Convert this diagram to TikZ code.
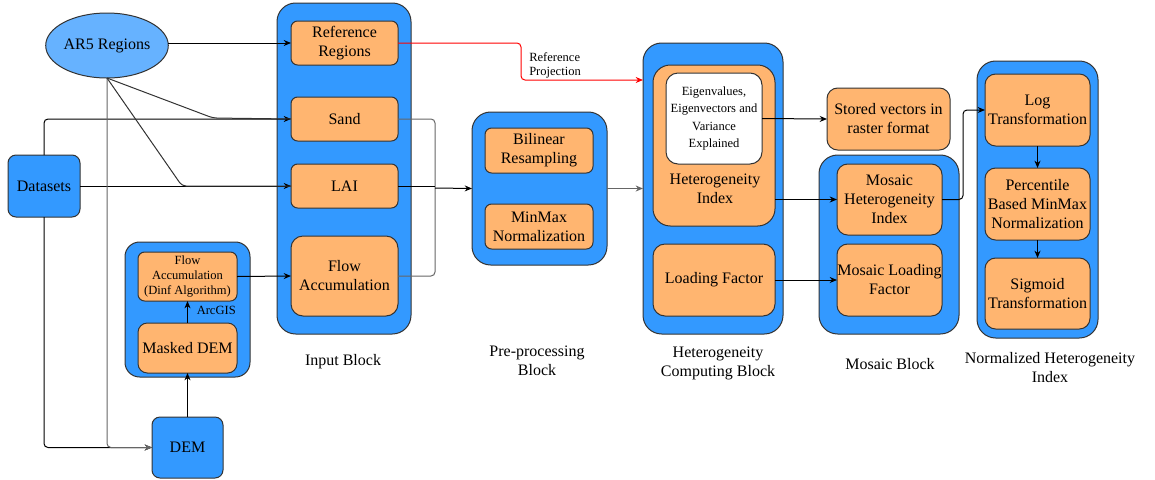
\documentclass[tikz,border=0pt]{standalone}
\usepackage{fontspec}
\setmainfont{Liberation Serif}
\usetikzlibrary{arrows.meta,shapes.geometric}
\definecolor{bblue}{HTML}{3399FF}
\definecolor{lblue}{HTML}{66B2FF}
\definecolor{orng}{HTML}{FFB570}
\definecolor{bord}{HTML}{333333}
\definecolor{lgray}{HTML}{666666}
\newcommand\fbig{\fontsize{12}{14.25}\selectfont}
\newcommand\fsmall{\fontsize{9.4}{13}\selectfont}
\newcommand\bx[7]{\node[#6,minimum width={(#4-#2)*0.75pt},minimum height={(#5-#3)*0.75pt}] (#1) at ({(#2+#4)/2},{(#3+#5)/2}) {#7};}
\begin{document}
\begin{tikzpicture}[x=0.75pt,y=-0.75pt,
  base/.style={draw=bord,line width=0.75pt,inner sep=0pt,outer sep=0pt,align=center,font=\fbig},
  cont/.style={base,fill=bblue,rounded corners=14pt},
  obox/.style={base,fill=orng,rounded corners=5pt},
  wbox/.style={base,fill=white,rounded corners=9pt,font=\fsmall},
  lbl/.style={align=center,font=\fbig,inner sep=0pt},
  ln/.style={line width=0.75pt,rounded corners=3pt},
  arr/.style={ln,-{Stealth[length=5.5pt,width=4.5pt]}}]
\useasboundingbox (0,0) rectangle (1155,479);
% containers
\bx{inb}{277}{3}{411}{334}{cont}{}
\bx{arc}{125}{242}{250}{377}{cont,rounded corners=11pt}{}
\bx{pre}{472}{112}{607}{265}{cont}{}
\bx{hc}{643}{43}{783}{334}{cont}{}
\bx{mos}{819}{155}{959}{334}{cont}{}
\bx{nhi}{977}{61}{1098}{338}{cont}{}
% sources
\node[base,ellipse,fill=lblue,minimum width=107*0.75pt,minimum height=65*0.75pt] (ar5) at (107,45.5) {AR5 Regions};
\bx{ds}{8}{155}{80}{217}{cont,rounded corners=6pt}{Datasets}
\bx{dem}{152}{417}{223}{478}{cont,rounded corners=6pt}{DEM}
% input block
\bx{ref}{291}{21}{398}{65}{obox}{Reference\\Regions}
\bx{sand}{291}{97}{398}{141}{obox}{Sand}
\bx{lai}{291}{164}{398}{208}{obox}{LAI}
\bx{flow}{291}{236}{398}{316}{obox,rounded corners=9pt}{Flow\\Accumulation}
% arcgis
\bx{dinf}{138}{252}{237}{301}{obox,font=\fontsize{9.4}{11.6}\selectfont}{Flow\\Accumulation\\(Dinf Algorithm)}
\bx{masked}{138}{323}{237}{373}{obox,rounded corners=7pt}{Masked DEM}
\node[anchor=east,font=\fsmall,inner sep=0pt] (arcl) at (236,310) {ArcGIS};
% pre-processing
\bx{bil}{485}{128}{593}{173}{obox}{Bilinear\\Resampling}
\bx{mm}{485}{204}{593}{249}{obox}{MinMax\\Normalization}
% heterogeneity computing
\bx{hi}{653}{65}{775}{226}{obox,rounded corners=13pt}{}
\bx{eig}{666}{73}{762}{164}{wbox}{Eigenvalues,\\Eigenvectors and\\Variance\\Explained}
\node[lbl] (hit) at (715,189) {Heterogeneity\\Index};
\bx{lf}{653}{244}{775}{316}{obox,rounded corners=9pt}{Loading Factor}
\bx{stored}{827}{88}{950}{150}{obox,rounded corners=8pt}{Stored vectors in\\raster format}
% mosaic
\bx{mhi}{837}{164}{942}{235}{obox,rounded corners=8pt}{Mosaic\\Heterogeneity\\Index}
\bx{mlf}{837}{244}{942}{316}{obox,rounded corners=8pt}{Mosaic Loading\\Factor}
% normalized
\bx{log}{985}{74}{1090}{146}{obox,rounded corners=8pt}{Log\\Transformation}
\bx{perc}{985}{168}{1090}{240}{obox,rounded corners=8pt}{Percentile\\Based MinMax\\Normalization}
\bx{sig}{985}{258}{1090}{329}{obox,rounded corners=8pt}{Sigmoid\\Transformation}
% labels
\node[lbl] (linb) at (343,362) {Input Block};
\node[lbl] (lpre) at (537,361) {Pre-processing\\Block};
\node[lbl] (lhc) at (718,363) {Heterogeneity\\Computing Block};
\node[lbl] (lmos) at (890,364) {Mosaic Block};
\node[lbl] (lnhi) at (1050,368) {Normalized Heterogeneity\\Index};
\node[anchor=west,align=left,font=\fontsize{9.4}{10.5}\selectfont,inner sep=0pt] (rpl) at (529,65) {Reference\\Projection};
% helper coordinates
\coordinate (k1) at (213,118);
\coordinate (k2) at (182,186);
\coordinate (j) at (435,188);
\coordinate (r1) at (521,43);
\coordinate (r2) at (521,80);
% connectors
\draw[arr] (ref.west -| ar5.east) -- (ref.west);
\draw[arr] (ds.north) |- (sand.west);
\draw[arr] (ds.east) -- (lai.west);
\draw[arr] (ds.south) |- (dem.west);
\draw[arr,draw=lgray] (ar5.south) |- (dem.west);
\draw[ln,draw=bord] (ar5.south) -- (k1) -- (sand.west);
\draw[ln,draw=bord] (ar5.south) -- (k2) -- (lai.west);
\draw[arr] (dem.north) -- (masked.south);
\draw[arr] (masked.north) -- (dinf.south);
\draw[arr] (dinf.east) -- (flow.west);
\draw[arr,draw=red] (ref.east) -- (r1) -- (r2) -- (r2 -| hc.west);
\draw[ln,draw=lgray] (sand.east) -| (j);
\draw[ln,draw=lgray] (flow.east) -| (j);
\draw[ln] (lai.east) -- (lai.east -| j);
\draw[arr] (j) -- (pre.west);
\draw[arr,draw=lgray] (pre.east) -- (pre.east -| hc.west);
\draw[arr] (eig.east) -- (stored.west);
\draw[arr] (mhi.west -| hi.east) -- (mhi.west);
\draw[arr] (lf.east) -- (mlf.west);
\draw[arr] (mhi.east) -- ++(21,0) |- (log.west);
\draw[arr] (log.south) -- (perc.north);
\draw[arr] (perc.south) -- (sig.north);
\end{tikzpicture}
\end{document}
